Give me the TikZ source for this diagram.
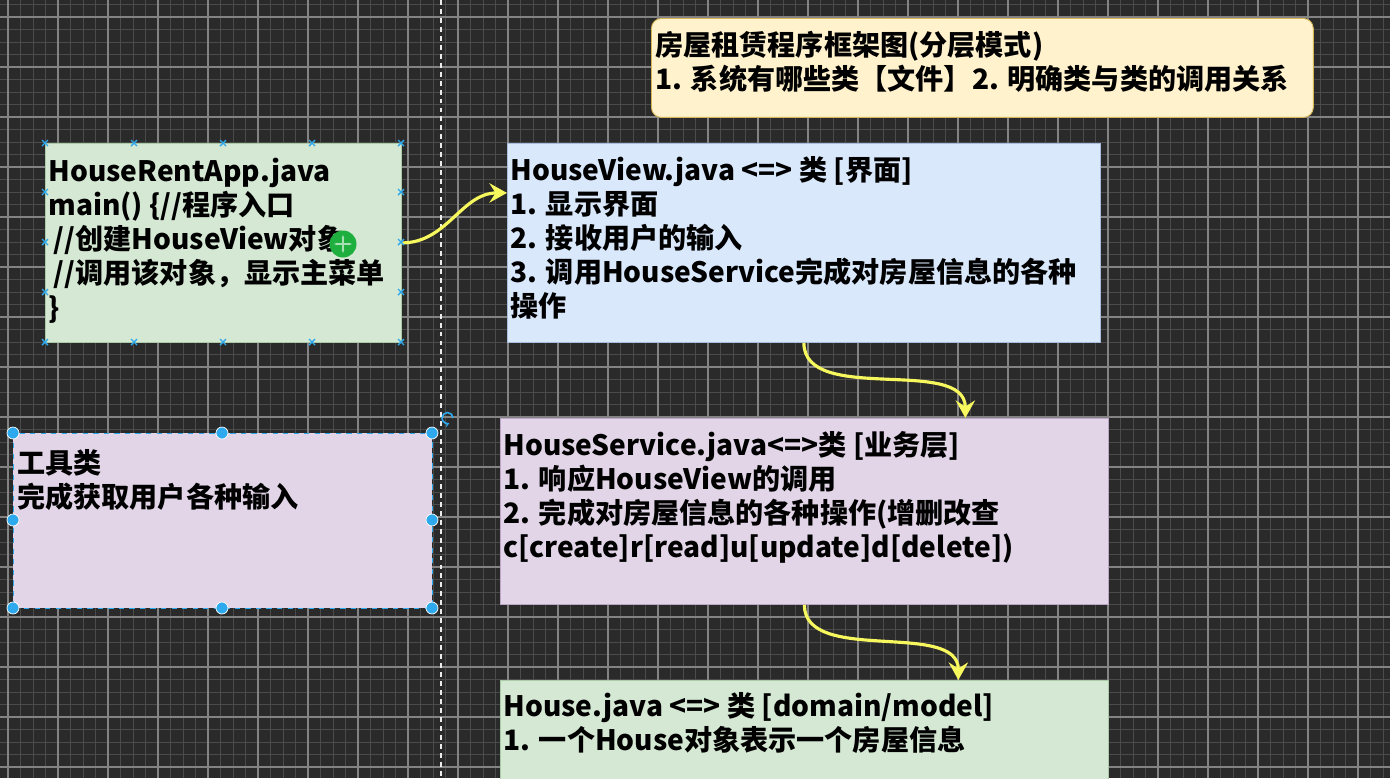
\documentclass[tikz,border=0pt]{standalone}
\usepackage{fontspec}
\setmainfont{Noto Sans CJK SC}
\usepackage{tikz}
\usetikzlibrary{arrows.meta}

\definecolor{bgdark}{HTML}{2A2A2A}
\definecolor{gridminor}{HTML}{4B4B4B}
\definecolor{gridmajor}{HTML}{838383}
\definecolor{notefill}{HTML}{FFF2CC}
\definecolor{notedraw}{HTML}{D6B656}
\definecolor{greenfill}{HTML}{D5E8D4}
\definecolor{greendraw}{HTML}{A9CBA6}
\definecolor{bluefill}{HTML}{DAE8FC}
\definecolor{bluedraw}{HTML}{A7BEDF}
\definecolor{purplefill}{HTML}{E1D5E7}
\definecolor{purpledraw}{HTML}{BBA6C8}
\definecolor{callyellow}{HTML}{F7F75E}
\definecolor{handleblue}{HTML}{2FA9EE}
\definecolor{cursorgreen}{HTML}{1FAF3F}

\tikzset{
  classbox/.style={draw, line width=0.5pt, anchor=north west, inner sep=0pt},
  boxtext/.style={anchor=north west, align=left, inner sep=0pt, font=\fontsize{16pt}{19.4pt}\selectfont\bfseries},
  calls/.style={draw=callyellow, line width=1.8pt, -{Stealth[length=10pt,width=11pt,inset=3.5pt]}},
  handle/.style={fill=handleblue, draw=white, line width=0.4pt},
}

\begin{document}
\begin{tikzpicture}[x=0.02cm, y=-0.02cm]
    \useasboundingbox (0,0) rectangle (1390,778);
    \clip (0,0) rectangle (1390,778);

    % Draw background grid
    \fill[bgdark] (0,0) rectangle (1390,778);
    \foreach \x in {-4.5,8,...,1400} {
      \draw[gridminor, line width=0.5pt] (\x,0) -- (\x,778);
    }
    \foreach \y in {4.5,17,...,790} {
      \draw[gridminor, line width=0.5pt] (0,\y) -- (1390,\y);
    }
    \foreach \x in {8,58,...,1400} {
      \draw[gridmajor, line width=0.6pt] (\x,0) -- (\x,778);
    }
    \foreach \y in {17,67,...,790} {
      \draw[gridmajor, line width=0.6pt] (0,\y) -- (1390,\y);
    }

    % Page border
    \draw[white!85!gray, line width=0.8pt, dash pattern=on 2.8pt off 2.3pt] (441,0) -- (441,778);

    % Draw boxes
    \node[classbox, draw=notedraw, fill=notefill, rounded corners=0.2cm, minimum width=13.24cm, minimum height=1.98cm] (note) at (651,18) {};
    \node[classbox, draw=greendraw, fill=greenfill, minimum width=7.12cm, minimum height=3.98cm] (app) at (45,143) {};
    \node[classbox, draw=handleblue, dashed, fill=purplefill, minimum width=8.38cm, minimum height=3.5cm] (utility) at (13,433) {};
    \node[classbox, draw=bluedraw, fill=bluefill, minimum width=11.86cm, minimum height=3.98cm] (view) at (507,143) {};
    \node[classbox, draw=purpledraw, fill=purplefill, minimum width=12.16cm, minimum height=3.72cm] (service) at (500,418) {};
    \node[classbox, draw=greendraw, fill=greenfill, minimum width=12.16cm, minimum height=3cm] (house) at (500,680) {};

    % Texts in the boxes
    \node[boxtext] (notetext) at (655,31) {房屋租赁程序框架图(分层模式)\\1. 系统有哪些类【文件】2. 明确类与类的调用关系};
    \node[boxtext] (apptext) at (48,158) {HouseRentApp.java\\main() \{//程序入口\\\hspace*{0.2em}//创建HouseView对象\\\hspace*{0.2em}//调用该对象，显示主菜单\\\}};
    \node[boxtext] (utilitytext) at (17,449) {工具类\\完成获取用户各种输入};
    \node[boxtext] (viewtext) at (510,156) {HouseView.java <=> 类 [界面]\\1. 显示界面\\2. 接收用户的输入\\3. 调用HouseService完成对房屋信息的各种\\操作};
    \node[boxtext] (servicetext) at (503,431) {HouseService.java<=>类 [业务层]\\1. 响应HouseView的调用\\2. 完成对房屋信息的各种操作(增删改查\\c[create]r[read]u[update]d[delete])};
    \node[boxtext] (housetext) at (503,692) {House.java <=> 类 [domain/model]\\1. 一个House对象表示一个房屋信息};

    % Calls between the layers
    \draw[calls] (app.east) to[out=0, in=180] ([yshift=1cm]view.west);
    \draw[calls] (view.south) to[out=-90, in=90, looseness=0.9] ([xshift=3.22cm]service.north);
    \draw[calls] (service.south) to[out=-90, in=90, looseness=0.9] ([xshift=3.08cm]house.north);

    % Selection handles
    \foreach \x in {45,134,223,312,401} {
      \foreach \y in {143,342} {
        \draw[handleblue, line width=0.8pt] (\x-3,\y-3) -- (\x+3,\y+3) (\x-3,\y+3) -- (\x+3,\y-3);
      }
    }
    \foreach \x in {45,401} {
      \foreach \y in {192,242,292} {
        \draw[handleblue, line width=0.8pt] (\x-3,\y-3) -- (\x+3,\y+3) (\x-3,\y+3) -- (\x+3,\y-3);
      }
    }
    \foreach \x/\y in {13/433, 222/433, 432/433, 13/520, 432/520, 13/608, 222/608, 432/608} {
      \filldraw[handle] (\x,\y) circle (0.12cm);
    }
    \draw[handleblue, line width=0.9pt, -{Stealth[length=2.5pt,width=3pt]}] (453,418) arc (0:290:0.11cm);

    % Cursor
    \fill[cursorgreen] (343,244) circle (0.27cm);
    \draw[white!60!cursorgreen, line width=0.8pt, {Stealth[length=2pt]}-{Stealth[length=2pt]}] (334,244) -- (352,244);
    \draw[white!60!cursorgreen, line width=0.8pt, {Stealth[length=2pt]}-{Stealth[length=2pt]}] (343,235) -- (343,253);
\end{tikzpicture}
\end{document}
